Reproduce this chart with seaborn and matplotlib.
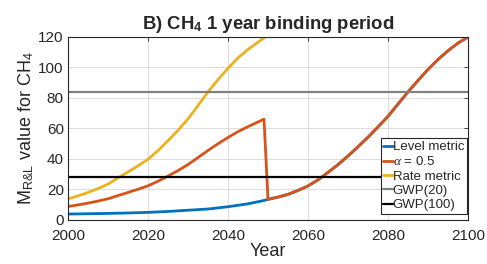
import matplotlib
matplotlib.use("Agg")
import matplotlib.pyplot as plt
import seaborn as sns
import pandas as pd

# ---- data ----
years_level = [2000, 2005, 2010, 2015, 2020, 2025, 2030, 2035, 2040, 2045, 2049, 2050,
               2052.5, 2055, 2057.5, 2060, 2062.5, 2065, 2067.5, 2070, 2072.5, 2075,
               2077.5, 2080, 2082.5, 2085, 2087.5, 2090, 2092.5, 2095, 2097.5, 2100]
level = [3.9, 4.1, 4.3, 4.6, 5.0, 5.6, 6.4, 7.2, 8.7, 10.6, 12.8, 13.5,
         15.0, 16.8, 19.4, 22.3, 26.3, 31.2, 36.3, 42.0, 48.0, 54.3,
         61.0, 68.0, 76.0, 84.0, 91.5, 98.7, 105.2, 111.0, 116.0, 120.0]

years_rate = [2000, 2002.5, 2005, 2007.5, 2010, 2012.5, 2015, 2017.5, 2020, 2022.5,
              2025, 2027.5, 2030, 2032.5, 2035, 2037.5, 2040, 2042.5, 2045, 2047.5,
              2049, 2050]
rate = [13.8, 15.8, 18.0, 20.6, 23.5, 27.6, 31.5, 35.5, 39.8, 45.5,
        52.0, 58.8, 66.3, 75.0, 84.0, 92.0, 99.5, 106.3, 111.8, 116.6,
        119.5, 121.0]

years_alpha = [2000, 2002.5, 2005, 2007.5, 2010, 2012.5, 2015, 2017.5, 2020, 2022.5,
               2025, 2027.5, 2030, 2032.5, 2035, 2037.5, 2040, 2042.5, 2045, 2047.5,
               2049, 2050,
               2052.5, 2055, 2057.5, 2060, 2062.5, 2065, 2067.5, 2070, 2072.5, 2075,
               2077.5, 2080, 2082.5, 2085, 2087.5, 2090, 2092.5, 2095, 2097.5, 2100]
alpha = [8.85, 9.9, 11.05, 12.4, 13.9, 16.0, 18.05, 20.15, 22.4, 25.4,
         28.8, 32.4, 36.35, 40.95, 45.6, 50.0, 54.1, 57.95, 61.2, 64.25,
         66.15, 13.5,
         15.0, 16.8, 19.4, 22.3, 26.3, 31.2, 36.3, 42.0, 48.0, 54.3,
         61.0, 68.0, 76.0, 84.0, 91.5, 98.7, 105.2, 111.0, 116.0, 120.0]

years_gwp = [2000, 2100]
gwp20 = [84.0, 84.0]
gwp100 = [28.0, 28.0]

labels = ["Level metric", r"$\alpha$ = 0.5", "Rate metric", "GWP(20)", "GWP(100)"]
colors = ["#0072BD", "#D95319", "#EDB120", "#808080", "#000000"]

# ---- figure ----
sns.set_style("white")
plt.rcParams["font.family"] = ["Liberation Sans", "DejaVu Sans"]
plt.rcParams["mathtext.fontset"] = "custom"
plt.rcParams["mathtext.rm"] = "Liberation Sans"
plt.rcParams["mathtext.it"] = "Liberation Serif:italic"
plt.rcParams["mathtext.bf"] = "Liberation Sans:bold"

fig = plt.figure(figsize=(4.87, 2.64), dpi=100)
ax = fig.add_axes([0.1396, 0.1667, 0.8214, 0.6932])

series = [
    (years_level, level),
    (years_alpha, alpha),
    (years_rate, rate),
    (years_gwp, gwp20),
    (years_gwp, gwp100),
]
widths = [2.0, 2.0, 2.0, 1.6, 1.6]
for (xs, ys), lab, col, lw in zip(series, labels, colors, widths):
    df = pd.DataFrame({"Year": xs, "val": ys})
    sns.lineplot(data=df, x="Year", y="val", ax=ax, color=col, linewidth=lw,
                 label=lab, sort=False, estimator=None)

ax.set_xlim(2000, 2100)
ax.set_ylim(0, 120)
ax.set_xticks([2000, 2020, 2040, 2060, 2080, 2100])
ax.set_yticks([0, 20, 40, 60, 80, 100, 120])
ax.grid(True, color="#dcdcdc", linewidth=0.7)
ax.set_axisbelow(True)
for s in ax.spines.values():
    s.set_color("#262626")
    s.set_linewidth(0.8)
ax.tick_params(direction="in", length=3, width=0.6, colors="#262626",
               labelsize=11, top=True, right=True)
ax.tick_params(axis="x", pad=6.5)
ax.tick_params(axis="y", pad=3)
ax.set_xlabel("Year", fontsize=13, color="#262626", labelpad=0)
ax.set_ylabel(r"M$_{\mathregular{R&L}}$ value for CH$_{\mathregular{4}}$", fontsize=13,
              color="#262626", labelpad=2)
ax.set_title(r"B) CH$_{\mathbf{4}}$ 1 year binding period", fontsize=13.3,
             fontweight="bold", pad=6)

leg = ax.legend(loc="lower right", bbox_to_anchor=(1.0, 0.025), fontsize=9.5,
                handlelength=0.7, handletextpad=0.0, borderpad=0.2,
                labelspacing=0.16, borderaxespad=0.1, frameon=True, fancybox=False)
leg.get_frame().set_edgecolor("#262626")
leg.get_frame().set_linewidth(0.8)
leg.get_frame().set_alpha(1)

fig.savefig("out.png", dpi=100)
